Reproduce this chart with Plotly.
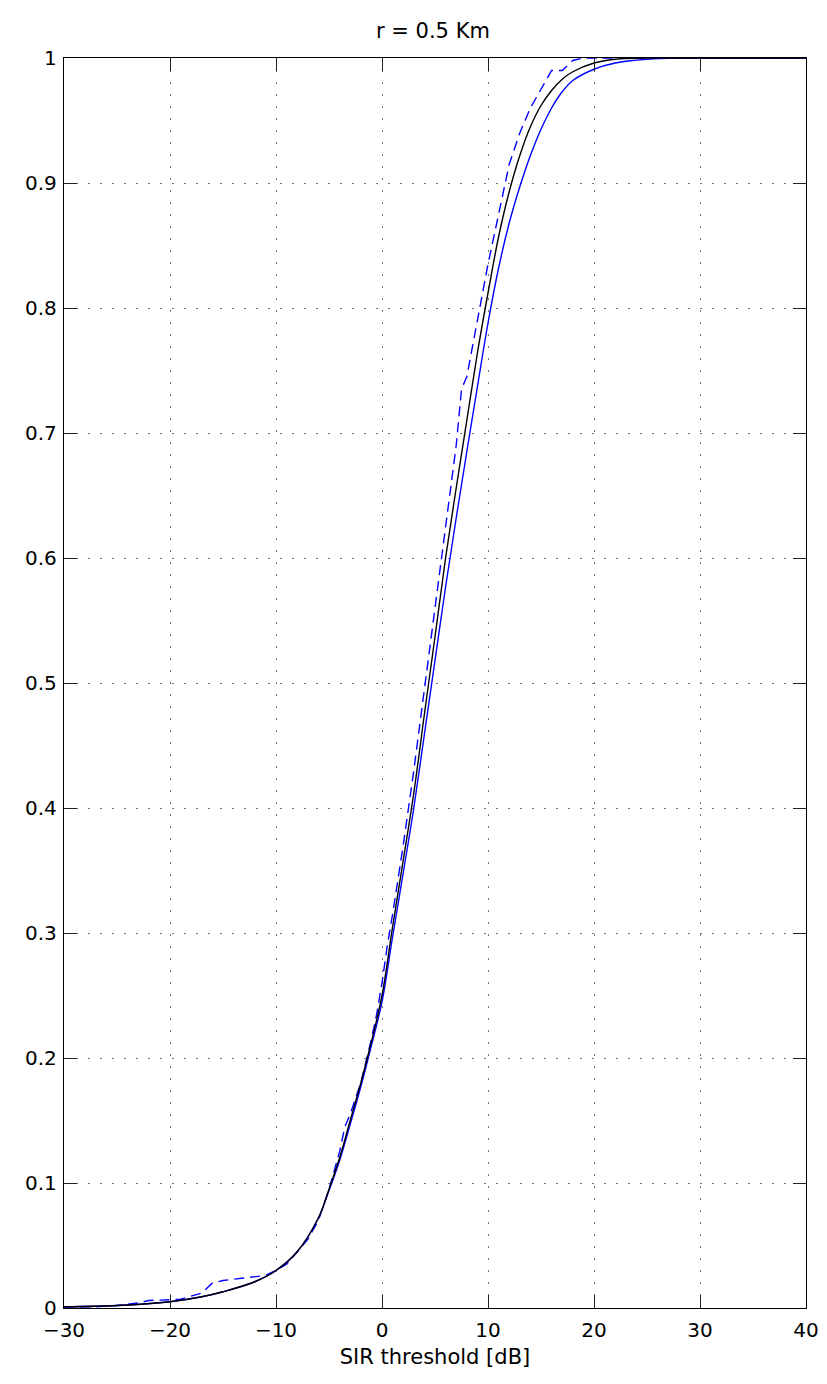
import plotly.graph_objects as go

# SIR threshold grid (dB) and coverage probability curves
sir_db = [-30, -25, -20, -17, -15, -12, -10, -8, -6, -5, -4, -3, -2, -1, 0, 1, 2, 3,
          4, 5, 6, 7, 8, 9, 10, 11, 12, 13, 14, 15, 16, 17, 18, 20, 22, 25, 28, 30, 35, 40]

p_analytic = [0.001, 0.002, 0.005, 0.009, 0.013, 0.021, 0.030, 0.045, 0.072, 0.095, 0.120,
              0.150, 0.180, 0.213, 0.250, 0.305, 0.358, 0.412, 0.475, 0.537, 0.600, 0.656,
              0.710, 0.764, 0.812, 0.857, 0.893, 0.922, 0.945, 0.962, 0.974, 0.983, 0.989,
              0.996, 0.999, 1.0, 1.0, 1.0, 1.0, 1.0]

p_approx = [0.001, 0.002, 0.005, 0.009, 0.013, 0.021, 0.030, 0.045, 0.072, 0.094, 0.118,
            0.147, 0.177, 0.210, 0.245, 0.297, 0.348, 0.400, 0.459, 0.518, 0.577, 0.632,
            0.685, 0.737, 0.788, 0.832, 0.868, 0.897, 0.922, 0.943, 0.960, 0.973, 0.982,
            0.991, 0.996, 0.999, 1.0, 1.0, 1.0, 1.0]

# Monte Carlo estimate (empirical CDF)
sim_db = [-30, -27, -25, -23, -22, -19, -17, -16, -15, -11, -10, -9, -8, -7, -6, -5, -4,
          -3.5, -3, -2, -1, -0.5, 0, 0.5, 1, 2, 3, 4, 5, 6, 7, 7.5, 8, 9, 10, 11, 12, 13,
          14, 15, 16, 17, 18, 19, 40]
p_sim = [0.001, 0.001, 0.002, 0.004, 0.006, 0.007, 0.012, 0.020, 0.022, 0.026, 0.030,
         0.035, 0.045, 0.055, 0.070, 0.095, 0.125, 0.145, 0.155, 0.180, 0.215, 0.235,
         0.260, 0.290, 0.315, 0.370, 0.430, 0.495, 0.560, 0.625, 0.690, 0.735, 0.745,
         0.790, 0.835, 0.875, 0.915, 0.940, 0.960, 0.975, 0.990, 0.990, 0.998, 1.0, 1.0]

x_ticks = [-30, -20, -10, 0, 10, 20, 30, 40]
y_ticks = [0, 0.1, 0.2, 0.3, 0.4, 0.5, 0.6, 0.7, 0.8, 0.9, 1]
y_tick_text = ["0", "0.1", "0.2", "0.3", "0.4", "0.5", "0.6", "0.7", "0.8", "0.9", "1"]

FONT = "DejaVu Sans, Liberation Sans, Arial, sans-serif"

fig = go.Figure()
fig.add_trace(go.Scatter(x=sim_db, y=p_sim, mode="lines",
                         line=dict(color="#0000ff", width=1.4, dash="10px,6px"),
                         name="simulation"))
fig.add_trace(go.Scatter(x=sir_db, y=p_approx, mode="lines", line_shape="spline",
                         line=dict(color="#0000ff", width=1.4), name="approximation"))
fig.add_trace(go.Scatter(x=sir_db, y=p_analytic, mode="lines", line_shape="spline",
                         line=dict(color="#000000", width=1.4), name="analysis"))

axis_common = dict(
    showline=True, linecolor="black", linewidth=1.3, mirror="allticks",
    ticks="inside", ticklen=13, tickwidth=1.2, tickcolor="#222222",
    showgrid=True, gridcolor="#777777", gridwidth=1.3, griddash="1.5px,10.5px",
    zeroline=False, automargin=False,
    tickfont=dict(family=FONT, size=20, color="black"),
)

fig.update_xaxes(range=[-30, 40], tickvals=x_ticks, ticklabelstandoff=4,
                 title=dict(text="SIR threshold [dB]", standoff=8,
                            font=dict(family=FONT, size=21, color="black")),
                 **axis_common)
fig.update_yaxes(range=[0, 1], tickvals=y_ticks, ticktext=y_tick_text,
                 ticklabelstandoff=2, **axis_common)

fig.update_layout(
    width=827, height=1384,
    margin=dict(l=64, r=21, t=58, b=76),
    paper_bgcolor="white", plot_bgcolor="white",
    showlegend=False,
    title=dict(text="r = 0.5 Km", x=0.5235, xanchor="center", y=0.978, yanchor="middle",
               font=dict(family=FONT, size=21, color="black")),
)

fig.write_html("out.html")
